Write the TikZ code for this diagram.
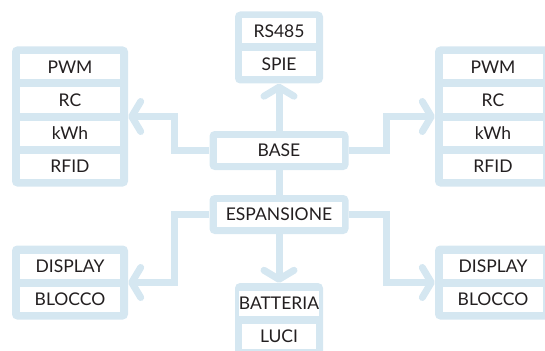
\documentclass[tikz,border=0pt]{standalone}
\usepackage{fontspec}
\setmainfont{Lato}
\usetikzlibrary{arrows.meta}
\definecolor{paleblue}{RGB}{213,231,241}
\definecolor{ink}{RGB}{35,31,32}
\tikzset{%
  group/.style  = {shape=rectangle, rounded corners=5pt, fill=paleblue, inner sep=0pt},%
  cell/.style   = {shape=rectangle, fill=white, inner sep=0pt,%
                   minimum height=25pt, text=ink},%
  link/.style   = {draw=paleblue, line width=7pt},%
  linkto/.style = {link, -{Straight Barb[length=9pt,width=30pt,round]}}%
}

\begin{document}
\begin{tikzpicture}[x=1pt,y=-1pt,every node/.style={font=\fontsize{17.5}{19}\selectfont}]
	\useasboundingbox (0,0) rectangle (545,350);
	% outer frames
	\node[group, minimum width=116pt, minimum height=140pt] (ltop)  at (70,116.5)  {};
	\node[group, minimum width=116pt, minimum height=140pt] (rtop)  at (493,116.5) {};
	\node[group, minimum width=88pt,  minimum height=72pt]  (rs)    at (279,47.5)  {};
	\node[group, minimum width=139pt, minimum height=39pt]  (base)  at (279,150.5) {};
	\node[group, minimum width=139pt, minimum height=39pt]  (esp)   at (279,214.5) {};
	\node[group, minimum width=116pt, minimum height=74pt]  (ldisp) at (70,282.5)  {};
	\node[group, minimum width=116pt, minimum height=74pt]  (rdisp) at (493,282.5) {};
	\node[group, minimum width=88pt,  minimum height=73pt]  (batt)  at (279,319.5) {};
	% cells
	\node[cell, minimum width=100pt] (lpwm)  at (70,67)  {PWM};
	\node[cell, minimum width=100pt] (lrc)   at (70,100) {RC};
	\node[cell, minimum width=100pt] (lkwh)  at (70,133) {kWh};
	\node[cell, minimum width=100pt] (lrfid) at (70,166) {RFID};
	\node[cell, minimum width=100pt] (rpwm)  at (493,67)  {PWM};
	\node[cell, minimum width=100pt] (rrc)   at (493,100) {RC};
	\node[cell, minimum width=100pt] (rkwh)  at (493,133) {kWh};
	\node[cell, minimum width=100pt] (rrfid) at (493,166) {RFID};
	\node[cell, minimum width=74pt]  (rsa)   at (279,31) {RS485};
	\node[cell, minimum width=74pt]  (spie)  at (279,64) {SPIE};
	\node[cell, minimum width=125pt] (basec) at (279,150.5) {BASE};
	\node[cell, minimum width=125pt] (espc)  at (279,214.5) {ESPANSIONE};
	\node[cell, minimum width=100pt] (ldsp)  at (70,266)  {DISPLAY};
	\node[cell, minimum width=100pt] (lblk)  at (70,299)  {BLOCCO};
	\node[cell, minimum width=100pt] (rdsp)  at (493,266) {DISPLAY};
	\node[cell, minimum width=100pt] (rblk)  at (493,299) {BLOCCO};
	\node[cell, minimum width=74pt]  (batc)  at (279,303) {BATTERIA};
	\node[cell, minimum width=74pt]  (luci)  at (279,336) {LUCI};
	% links
	\draw[linkto] (base.north) -- (rs.south);
	\draw[link]   (base.south) -- (esp.north);
	\draw[linkto] (base.west) -- ++(-35,0) |- (ltop.east);
	\draw[linkto] (base.east) -- ++(38,0) |- (rtop.west);
	\draw[linkto] (esp.west) -- ++(-35,0) |- (ldisp.east);
	\draw[linkto] (esp.east) -- ++(38,0) |- (rdisp.west);
	\draw[linkto] (esp.south) -- (batt.north);
\end{tikzpicture}
\end{document}
